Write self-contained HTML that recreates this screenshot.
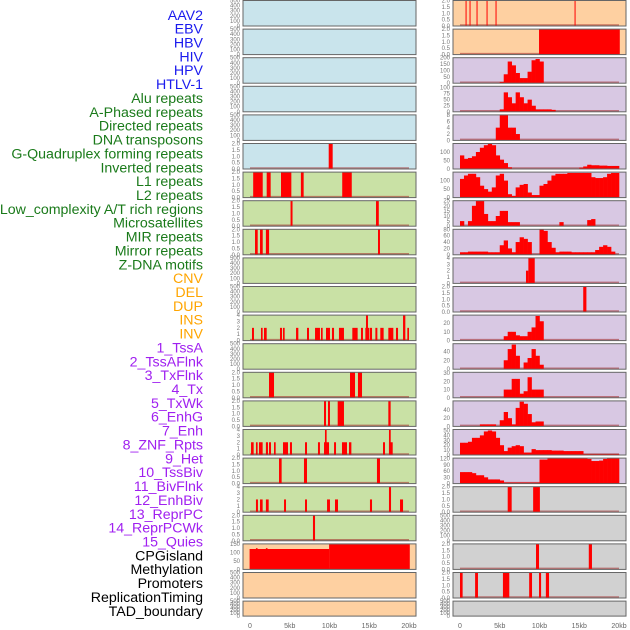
<!DOCTYPE html>
<html><head><meta charset="utf-8"><style>
html,body{margin:0;padding:0;background:#fff;}
svg{display:block;font-family:"Liberation Sans",sans-serif;}
</style></head><body>
<svg id="chart" width="630" height="630" viewBox="0 0 630 630"></svg>
<script>
// ---------- data ----------
const trackLabels = ["AAV2","EBV","HBV","HIV","HPV","HTLV-1","Alu repeats","A-Phased repeats","Directed repeats","DNA transposons","G-Quadruplex forming repeats","Inverted repeats","L1 repeats","L2 repeats","Low_complexity A/T rich regions","Microsatellites","MIR repeats","Mirror repeats","Z-DNA motifs","CNV","DEL","DUP","INS","INV","1_TssA","2_TssAFlnk","3_TxFlnk","4_Tx","5_TxWk","6_EnhG","7_Enh","8_ZNF_Rpts","9_Het","10_TssBiv","11_BivFlnk","12_EnhBiv","13_ReprPC","14_ReprPCWk","15_Quies","CPGisland","Methylation","Promoters","ReplicationTiming","TAD_boundary"];
const labelGroups = ["v","v","v","v","v","v","r","r","r","r","r","r","r","r","r","r","r","r","r","s","s","s","s","s","c","c","c","c","c","c","c","c","c","c","c","c","c","c","c","o","o","o","o","o"];
const xTickValues = [0,5,10,15,20];
const xTickLabels = ["0","5kb","10kb","15kb","20kb"];

// spike panels: [startKb, endKb, value]
const l5Spikes = [[9.9,10.4,2]];
const l6Spikes = [[0.4,1.6,2],[2.1,2.6,2],[3.9,5.2,2],[6.4,6.75,2],[11.6,12.8,2]];
const l7Spikes = [[5.1,5.35,2],[15.85,16.2,2]];
const l8Spikes = [[0.63,0.97,2],[1.26,1.6,2],[2.0,2.4,2],[16.1,16.35,2]];
const l11Spikes = [[0.25,0.5,2],[1.38,1.59,2],[1.76,2.1,2],[3.77,4.03,2],[4.15,4.36,2],[5.79,6.08,2],[7.17,7.42,2],[8.18,8.8,2],[8.93,9.14,2],[9.56,10.06,2],[10.31,10.57,2],[11.19,11.82,2],[12.87,13.54,2],[13.96,14.21,2],[14.51,15.01,2],[14.59,14.84,4],[15.09,15.35,2],[15.77,16.02,2],[16.39,16.81,2],[17.4,18.03,2],[18.36,18.62,2],[19.25,19.54,4],[19.79,20.0,2]];
const l13Spikes = [[2.39,3.02,2],[12.58,13.21,2],[13.58,14.09,2]];
const l14Spikes = [[9.31,9.56,2],[9.81,10.06,2],[11.03,11.82,2],[17.4,17.69,2]];
const l15Spikes = [[0.13,0.46,2],[0.75,0.96,2],[1.13,1.59,2],[2.0,2.26,2],[2.39,2.64,2],[3.02,3.23,2],[4.15,4.78,2],[5.03,5.28,2],[6.92,7.17,2],[8.55,8.8,2],[9.31,9.94,2],[9.43,9.64,4],[10.57,10.82,2],[11.57,12.2,2],[12.45,12.75,2],[16.73,16.98,2],[17.48,17.95,2],[17.48,17.7,4]];
const l16Spikes = [[3.65,3.98,2],[6.79,7.17,2],[15.97,16.35,2]];
const l17Spikes = [[0.75,1.0,2],[1.26,1.59,2],[2.0,2.35,2],[4.28,4.53,2],[6.92,7.17,2],[9.69,10.06,2],[10.69,11.07,2],[15.09,15.35,2],[17.48,17.74,4],[18.87,19.25,2]];
const l18Spikes = [[7.92,8.18,2]];
const l19Spikes = [[-0.05,9.95,120],[0.75,0.95,125],[2.0,2.2,125],[9.95,20.1,148]];
const r0Spikes = [[0.7,0.82,2],[1.2,1.32,2],[2.08,2.2,2],[3.34,3.46,2],[4.47,4.59,2],[14.41,14.53,2]];
const r1Spikes = [[9.94,20.1,2]];
const r9Spikes = [[8.3,8.6,2],[8.6,9.4,4]];
const r10Spikes = [[15.5,15.9,2]];
const r17Spikes = [[6.0,6.5,2],[9.2,10.05,2]];
const r19Spikes = [[9.56,9.94,2],[16.2,16.6,2]];
const r20Spikes = [[0.0,0.33,2],[1.9,2.26,2],[5.4,6.2,2],[8.7,9.06,2],[9.94,10.2,2],[10.8,11.2,2]];

// profile panels: 0.5kb bins from 0 to 20kb
const r2Vals = [0,0,0,0,0,0,0,0,0,0,10,70,170,140,80,40,40,90,180,190,170];
const r3Vals = [0,0,0,0,0,0,0,0,0,0,10,80,60,35,80,60,35,50,25,10,10,10,10,8];
const r4Vals = [0,0,0,0,0,0,0,0,0,4,8,8,4,4,2];
const r5Vals = [80,60,65,75,100,125,140,150,140,80,55,35,10,0,0,0,0,0,0,0,0,0,0,0,0,0,0,0,0,0,8,15,25,22,22,20,20,18,18,18];
const r6Vals = [110,130,140,140,120,70,50,35,60,130,140,100,20,10,60,75,80,30,15,15,70,80,100,130,140,140,140,145,145,145,145,145,145,120,115,115,120,140,145,145];
const r7Vals = [5,0,5,20,25,25,12,5,5,10,15,15,4,4,4,0,0,0,0,0,0,0,0,0,0,4,0,0,0,0,0,0,6,7];
const r8Vals = [8,8,10,10,10,10,10,8,8,8,30,45,20,8,40,55,50,40,0,0,80,75,40,22,8,10,10,10,8,8,8,8,8,8,15,25,30,25,10,0];
const r11Vals = [0,0,0,0,0,0,0,0,0,0,0,5,10,10,6,5,5,10,15,28,22];
const r12Vals = [0,0,0,0,0,0,0,0,0,0,0,20,45,55,30,0,15,25,45,30,10];
const r13Vals = [0,0,0,0,0,0,0,0,0,0,0,10,10,23,23,5,8,25,10,10,10];
const r14Vals = [0,0,0,0,0,5,5,5,5,0,15,35,20,5,45,60,55,30,10,12,12];
const r15Vals = [25,25,27,35,35,40,48,50,48,35,20,8,15,18,20,18,5,5,12,10,10,10,10,9,9,9,8,8,8,8,8,2,2,2,2,2,2,2,2,2];
const r16Vals = [55,55,55,50,40,40,30,20,20,20,15,5,5,5,5,5,5,5,5,5,115,115,120,120,120,120,120,120,120,120,120,120,118,108,108,110,118,120,120,120];

// ---------- layout ----------
const NS = "http://www.w3.org/2000/svg";
const svg = document.getElementById("chart");
const COLX = [243, 453];
const PW = 173;
const ROWP = 28.6;
const BG = {b:"#c9e4ec", g:"#c9e1a5", o:"#fed0a1", p:"#d8c8e3", s:"#d1d1d1"};
const LBLC = {v:"#1a1aee", r:"#1a7a1a", s:"#ffa500", c:"#a020f0", o:"#000"};
const E = {ymax:500, ticks:[0,100,200,300,400,500], tl:["0","100","200","300","400","500"]};
const T2 = {ymax:2, ticks:[0,0.5,1,1.5,2], tl:["0.0","0.5","1.0","1.5","2.0"]};
const T4 = {ymax:4, ticks:[0,1,2,3,4], tl:["0","1","2","3","4"]};
function ax(ymax, ticks){return {ymax:ymax, ticks:ticks, tl:ticks.map(String)};}

const panels = [
 {c:0,r:0,bg:"b",ax:E},{c:0,r:1,bg:"b",ax:E},{c:0,r:2,bg:"b",ax:E},{c:0,r:3,bg:"b",ax:E},{c:0,r:4,bg:"b",ax:E},
 {c:0,r:5,bg:"b",ax:T2,sp:l5Spikes},{c:0,r:6,bg:"g",ax:T2,sp:l6Spikes},{c:0,r:7,bg:"g",ax:T2,sp:l7Spikes},
 {c:0,r:8,bg:"g",ax:T2,sp:l8Spikes},{c:0,r:9,bg:"g",ax:E},{c:0,r:10,bg:"g",ax:E},{c:0,r:11,bg:"g",ax:T4,sp:l11Spikes},
 {c:0,r:12,bg:"g",ax:E},{c:0,r:13,bg:"g",ax:T2,sp:l13Spikes},{c:0,r:14,bg:"g",ax:T2,sp:l14Spikes},
 {c:0,r:15,bg:"g",ax:T4,sp:l15Spikes},{c:0,r:16,bg:"g",ax:T2,sp:l16Spikes},{c:0,r:17,bg:"g",ax:T4,sp:l17Spikes},
 {c:0,r:18,bg:"g",ax:T2,sp:l18Spikes},{c:0,r:19,bg:"o",ax:ax(150,[0,50,100,150]),sp:l19Spikes},
 {c:0,r:20,bg:"o",ax:E},{c:0,r:21,bg:"o",ax:E},
 {c:1,r:0,bg:"o",ax:T2,sp:r0Spikes},{c:1,r:1,bg:"o",ax:T2,sp:r1Spikes},
 {c:1,r:2,bg:"p",ax:ax(200,[0,50,100,150,200]),pr:r2Vals},
 {c:1,r:3,bg:"p",ax:ax(105,[0,25,50,75,100]),pr:r3Vals},
 {c:1,r:4,bg:"p",ax:ax(8,[0,2,4,6,8]),pr:r4Vals},
 {c:1,r:5,bg:"p",ax:ax(150,[0,50,100]),pr:r5Vals},
 {c:1,r:6,bg:"p",ax:ax(150,[0,50,100]),pr:r6Vals},
 {c:1,r:7,bg:"p",ax:ax(25,[0,5,10,15,20,25]),pr:r7Vals},
 {c:1,r:8,bg:"p",ax:ax(80,[0,20,40,60,80]),pr:r8Vals},
 {c:1,r:9,bg:"p",ax:T4,sp:r9Spikes},{c:1,r:10,bg:"p",ax:T2,sp:r10Spikes},
 {c:1,r:11,bg:"p",ax:ax(29,[0,10,20]),pr:r11Vals},
 {c:1,r:12,bg:"p",ax:ax(57,[0,20,40]),pr:r12Vals},
 {c:1,r:13,bg:"p",ax:ax(31,[0,10,20,30]),pr:r13Vals},
 {c:1,r:14,bg:"p",ax:ax(62,[0,20,40]),pr:r14Vals},
 {c:1,r:15,bg:"p",ax:ax(52,[0,10,20,30,40,50]),pr:r15Vals},
 {c:1,r:16,bg:"p",ax:ax(122,[0,30,60,90,120]),pr:r16Vals},
 {c:1,r:17,bg:"s",ax:T2,sp:r17Spikes},{c:1,r:18,bg:"s",ax:E},{c:1,r:19,bg:"s",ax:T2,sp:r19Spikes},
 {c:1,r:20,bg:"s",ax:T2,sp:r20Spikes},{c:1,r:21,bg:"s",ax:E}
];

function mk(tag, attrs, parent){const e=document.createElementNS(NS,tag);for(const k in attrs)e.setAttribute(k,attrs[k]);(parent||svg).appendChild(e);return e;}
function xScale(col, kb){return COLX[col] + 7 + kb*7.95;}

// labels
trackLabels.forEach(function(t,i){
  const el = mk("text",{x:203,y:15+i*13.86+4.8,"text-anchor":"end","font-size":"14.2",fill:LBLC[labelGroups[i]]});
  el.textContent = t;
  
  
});

panels.forEach(function(p){
  const top = p.r*ROWP + 0.5;
  const h = p.r===21 ? 15 : 25.5;
  const x0 = COLX[p.c];
  const g = mk("g",{});
  
  
  mk("rect",{x:x0,y:top,width:PW,height:h,fill:BG[p.bg]},g);
  const bottom = top + h;
  const ys = function(v){return bottom - v/p.ax.ymax*h;};
  p.ax.ticks.forEach(function(tv,j){
    const tt = mk("text",{x:x0-3,y:ys(tv)+2,"text-anchor":"end","font-size":"6",fill:"#777"},g);
    tt.textContent = p.ax.tl[j];
    
    
  });
  if(p.sp||p.pr){
    const bl = mk("line",{x1:xScale(p.c,0),x2:xScale(p.c,20),y1:bottom-1,y2:bottom-1,stroke:"rgba(160,40,40,0.55)","stroke-width":"1.5"},g);
    
    
  }
  if(p.sp){
    p.sp.forEach(function(s){
      const xa=xScale(p.c,s[0]), xb=xScale(p.c,s[1]);
      const y=Math.max(ys(s[2]),top);
      const r = mk("rect",{x:xa,y:y,width:Math.max(1,xb-xa),height:bottom-y,fill:"#ff0000"},g);
      
      
    });
  }
  if(p.pr){
    p.pr.forEach(function(v,k){
      if(v<=0) return;
      const xa=xScale(p.c,k*0.5), xb=xScale(p.c,(k+1)*0.5);
      const y=Math.max(ys(v),top);
      const r = mk("rect",{x:xa,y:y,width:xb-xa+0.3,height:bottom-y,fill:"#ff0000"},g);
      
      
    });
  }
  mk("rect",{x:x0,y:top,width:PW,height:h,fill:"none",stroke:"#666","stroke-width":"1"},g);
});

// x axes
[0,1].forEach(function(c){
  xTickValues.forEach(function(v,i){
    const t = mk("text",{x:xScale(c,v),y:628,"text-anchor":"middle","font-size":"7",fill:"#666"});
    t.textContent = xTickLabels[i];
    
    
  });
});
</script>
</body></html>
